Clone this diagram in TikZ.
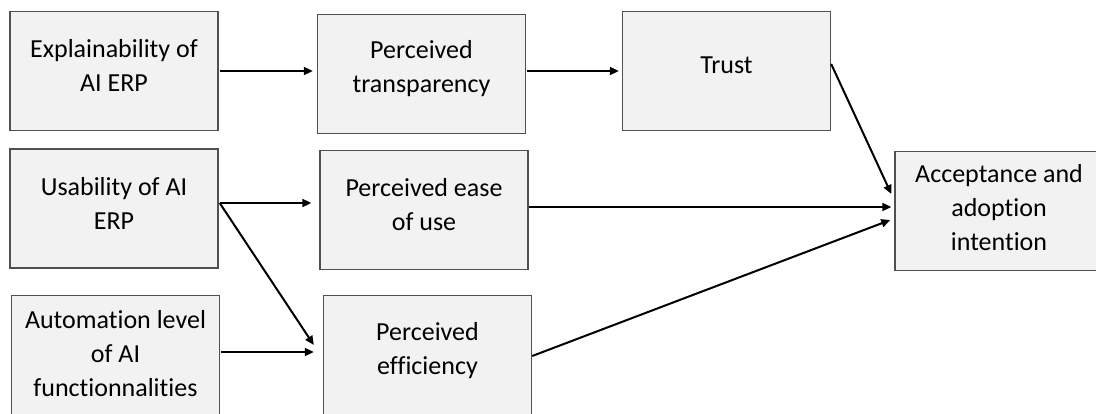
\documentclass[tikz,border=0pt]{standalone}
\usepackage{fontspec}
\setmainfont{Carlito}[Ligatures=NoCommon]
\usetikzlibrary{arrows.meta}
\definecolor{boxfill}{HTML}{F2F2F2}
\definecolor{boxline}{HTML}{505050}
\begin{document}
\begin{tikzpicture}[x=1pt,y=-1pt,
  box/.style={draw=boxline, line width=1.4pt, fill=boxfill, minimum width=208pt, minimum height=119pt, inner sep=0pt},
  txt/.style={align=center, font=\fontsize{26}{34}\selectfont, inner sep=0pt, text=black},
  arr/.style={line width=2pt, black, -{Triangle[length=9pt,width=8pt]}}]
\useasboundingbox (0,0) rectangle (1096,414);
\clip (0,0) rectangle (1096,414);
% boxes
\node[box] (b1) at (114,71) {};
\node[box] (b2) at (421.5,74) {};
\node[box] (b3) at (726.5,71) {};
\node[box] (b4) at (114,208.5) {};
\node[box] (b5) at (424,210) {};
\node[box] (b6) at (999,211) {};
\node[box] (b7) at (115.5,355) {};
\node[box] (b8) at (427.5,355) {};
% texts
\node[txt] (t1) at (114,65) {Explainability of\\AI ERP};
\node[txt] (t2) at (421.5,68.5) {Perceived\\transparency};
\node[txt] (t3) at (726.5,65) {Trust};
\node[txt] (t4) at (114,203.5) {Usability of AI\\ERP};
\node[txt] (t5) at (424,204.5) {Perceived ease\\of use};
\node[txt] (t6) at (999,208) {Acceptance and\\adoption\\intention};
\node[txt] (t7) at (115.5,354) {Automation level\\of AI\\functionnalities};
\node[txt] (t8) at (427.5,350.5) {Perceived\\efficiency};
% connectors
\draw[arr] ([xshift=1pt]b1.east) -- ([xshift=-4pt,yshift=3pt]b2.west);
\draw[arr] ([xshift=1pt,yshift=3pt]b2.east) -- ([xshift=-3pt]b3.west);
\draw[arr] ([yshift=7pt]b3.east) -- ([xshift=-3pt,yshift=17pt]b6.west);
\draw[arr] ([xshift=1pt,yshift=5.5pt]b4.east) -- ([xshift=-8pt,yshift=7pt]b5.west);
\draw[arr] ([xshift=1pt,yshift=5.5pt]b4.east) -- ([xshift=-9pt,yshift=10pt]b8.west);
\draw[arr] ([xshift=1pt,yshift=3pt]b7.east) -- ([xshift=-9pt,yshift=3pt]b8.west);
\draw[arr] ([yshift=3pt]b5.east) -- ([xshift=-3pt,yshift=4pt]b6.west);
\draw[arr] ([yshift=-1pt]b8.east) -- ([xshift=-4pt,yshift=-9pt]b6.west);
\end{tikzpicture}
\end{document}
